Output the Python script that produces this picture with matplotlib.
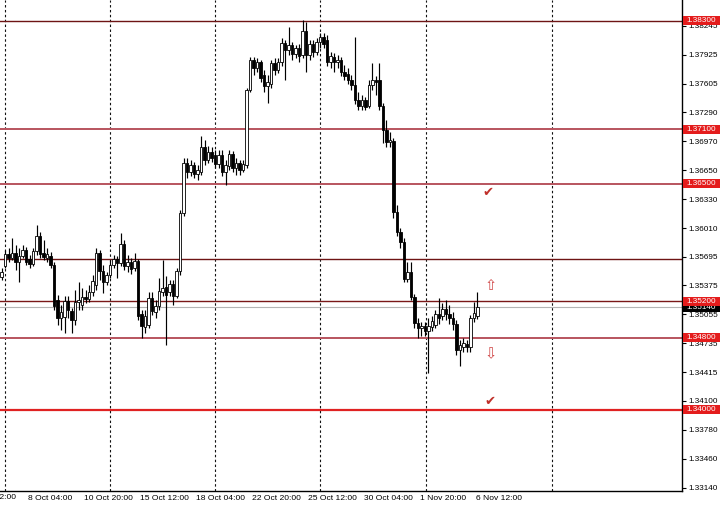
import matplotlib
matplotlib.use('Agg')
import matplotlib.pyplot as plt
import matplotlib.transforms as mtrans
from matplotlib.patches import Rectangle

# ---------------- data ----------------
opens = [1.3547, 1.3559, 1.3572, 1.3568, 1.3573, 1.3564, 1.3570, 1.3577, 1.3567, 1.3561,
         1.3576, 1.3592, 1.3573, 1.3568, 1.3570, 1.3560, 1.3521, 1.3502, 1.3503, 1.3520,
         1.3509, 1.3499, 1.3519, 1.3516, 1.3525, 1.3523, 1.3530, 1.3538, 1.3573, 1.3554,
         1.3541, 1.3549, 1.3560, 1.3567, 1.3562, 1.3583, 1.3559, 1.3564, 1.3557, 1.3565,
         1.3506, 1.3492, 1.3494, 1.3524, 1.3508, 1.3515, 1.3530, 1.3536, 1.3530, 1.3539,
         1.3526, 1.3554, 1.3618, 1.3673, 1.3663, 1.3671, 1.3661, 1.3663, 1.3691, 1.3676,
         1.3685, 1.3682, 1.3672, 1.3682, 1.3663, 1.3670, 1.3683, 1.3667, 1.3673, 1.3665,
         1.3671, 1.3754, 1.3787, 1.3778, 1.3785, 1.3770, 1.3758, 1.3760, 1.3783, 1.3776,
         1.3785, 1.3806, 1.3798, 1.3803, 1.3793, 1.3800, 1.3792, 1.3819, 1.3792, 1.3804,
         1.3796, 1.3807, 1.3812, 1.3809, 1.3785, 1.3790, 1.3785, 1.3787, 1.3773, 1.3771,
         1.3765, 1.3759, 1.3742, 1.3736, 1.3742, 1.3736, 1.3759, 1.3765, 1.3765, 1.3736,
         1.3709, 1.3696, 1.3697, 1.3619, 1.3597, 1.3586, 1.3545, 1.3552, 1.3525, 1.3496,
         1.3491, 1.3493, 1.3487, 1.3492, 1.3494, 1.3506, 1.3504, 1.3512, 1.3506, 1.3502,
         1.3495, 1.3466, 1.3469, 1.3473, 1.3469, 1.3502, 1.3504]
highs = [1.3557, 1.3577, 1.3579, 1.3590, 1.3582, 1.3579, 1.3582, 1.3580, 1.3571, 1.3579,
         1.3604, 1.3597, 1.3588, 1.3579, 1.3575, 1.3564, 1.3527, 1.3516, 1.3526, 1.3526,
         1.3513, 1.3533, 1.3541, 1.3535, 1.3533, 1.3538, 1.3549, 1.3579, 1.3577, 1.3560,
         1.3552, 1.3566, 1.3571, 1.3570, 1.3596, 1.3588, 1.3571, 1.3568, 1.3573, 1.3567,
         1.3510, 1.3510, 1.3530, 1.3530, 1.3521, 1.3546, 1.3566, 1.3548, 1.3544, 1.3544,
         1.3557, 1.3621, 1.3678, 1.3678, 1.3676, 1.3674, 1.3671, 1.3703, 1.3698, 1.3692,
         1.3690, 1.3687, 1.3687, 1.3687, 1.3676, 1.3687, 1.3686, 1.3678, 1.3676, 1.3676,
         1.3756, 1.3790, 1.3790, 1.3789, 1.3787, 1.3776, 1.3770, 1.3787, 1.3789, 1.3789,
         1.3811, 1.3809, 1.3823, 1.3807, 1.3803, 1.3804, 1.3831, 1.3829, 1.3809, 1.3809,
         1.3811, 1.3816, 1.3816, 1.3814, 1.3796, 1.3794, 1.3792, 1.3790, 1.3781, 1.3778,
         1.3770, 1.3812, 1.3751, 1.3748, 1.3746, 1.3765, 1.3783, 1.3769, 1.3783, 1.3739,
         1.3720, 1.3707, 1.3700, 1.3626, 1.3601, 1.3590, 1.3564, 1.3564, 1.3528, 1.3502,
         1.3497, 1.3497, 1.3502, 1.3504, 1.3510, 1.3524, 1.3518, 1.3521, 1.3516, 1.3508,
         1.3499, 1.3477, 1.3480, 1.3477, 1.3505, 1.3519, 1.3530]
lows = [1.3544, 1.3557, 1.3564, 1.3566, 1.3555, 1.3541, 1.3568, 1.3560, 1.3557, 1.3559,
        1.3571, 1.3568, 1.3566, 1.3564, 1.3557, 1.3510, 1.3494, 1.3488, 1.3485, 1.3502,
        1.3485, 1.3494, 1.3510, 1.3510, 1.3518, 1.3519, 1.3526, 1.3533, 1.3544, 1.3529,
        1.3538, 1.3546, 1.3557, 1.3546, 1.3559, 1.3555, 1.3552, 1.3550, 1.3554, 1.3499,
        1.3480, 1.3485, 1.3491, 1.3505, 1.3502, 1.3510, 1.3526, 1.3472, 1.3526, 1.3516,
        1.3524, 1.3549, 1.3614, 1.3656, 1.3658, 1.3656, 1.3654, 1.3660, 1.3671, 1.3673,
        1.3674, 1.3667, 1.3667, 1.3658, 1.3649, 1.3665, 1.3663, 1.3660, 1.3660, 1.3663,
        1.3667, 1.3751, 1.3770, 1.3773, 1.3762, 1.3751, 1.3739, 1.3756, 1.3770, 1.3772,
        1.3780, 1.3765, 1.3792, 1.3787, 1.3789, 1.3785, 1.3789, 1.3773, 1.3787, 1.3790,
        1.3792, 1.3800, 1.3800, 1.3780, 1.3778, 1.3773, 1.3778, 1.3769, 1.3765, 1.3760,
        1.3754, 1.3738, 1.3731, 1.3731, 1.3731, 1.3734, 1.3754, 1.3748, 1.3731, 1.3695,
        1.3690, 1.3690, 1.3612, 1.3592, 1.3579, 1.3541, 1.3541, 1.3521, 1.3491, 1.3480,
        1.3482, 1.3482, 1.3441, 1.3487, 1.3491, 1.3495, 1.3499, 1.3499, 1.3495, 1.3488,
        1.3461, 1.3448, 1.3464, 1.3464, 1.3464, 1.3497, 1.3500]
closes = [1.3552, 1.3572, 1.3568, 1.3573, 1.3564, 1.3570, 1.3577, 1.3564, 1.3561, 1.3576,
          1.3592, 1.3572, 1.3569, 1.3572, 1.3560, 1.3515, 1.3502, 1.3508, 1.3520, 1.3510,
          1.3499, 1.3519, 1.3521, 1.3525, 1.3523, 1.3530, 1.3542, 1.3573, 1.3554, 1.3541,
          1.3549, 1.3560, 1.3567, 1.3562, 1.3583, 1.3559, 1.3564, 1.3556, 1.3565, 1.3504,
          1.3493, 1.3504, 1.3524, 1.3509, 1.3515, 1.3531, 1.3535, 1.3527, 1.3539, 1.3526,
          1.3554, 1.3618, 1.3673, 1.3663, 1.3671, 1.3661, 1.3665, 1.3691, 1.3676, 1.3685,
          1.3678, 1.3672, 1.3682, 1.3663, 1.3671, 1.3683, 1.3667, 1.3673, 1.3665, 1.3672,
          1.3754, 1.3787, 1.3778, 1.3785, 1.3767, 1.3758, 1.3762, 1.3783, 1.3776, 1.3785,
          1.3806, 1.3798, 1.3803, 1.3793, 1.3800, 1.3791, 1.3819, 1.3792, 1.3804, 1.3796,
          1.3807, 1.3812, 1.3804, 1.3785, 1.3791, 1.3785, 1.3787, 1.3773, 1.3769, 1.3765,
          1.3759, 1.3742, 1.3736, 1.3742, 1.3735, 1.3759, 1.3765, 1.3762, 1.3736, 1.3709,
          1.3696, 1.3698, 1.3619, 1.3597, 1.3586, 1.3545, 1.3552, 1.3525, 1.3496, 1.3491,
          1.3493, 1.3487, 1.3493, 1.3498, 1.3506, 1.3502, 1.3512, 1.3506, 1.3502, 1.3495,
          1.3466, 1.3472, 1.3474, 1.3470, 1.3502, 1.3507, 1.3514]

level_prices = [1.3830, 1.3710, 1.3650, 1.3567, 1.3520, 1.3480, 1.3400]
level_colors = ['#6e1414', '#b8545e', '#b8545e', '#6e1414', '#7a1818', '#b8545e', '#e02222']
level_widths = [1.0, 1.4, 1.4, 1.0, 1.0, 1.4, 1.6]
labeled_levels = [1.3830, 1.3710, 1.3650, 1.3520, 1.3480, 1.3400]
current_price = 1.3514

ytick_values = [1.38245, 1.37925, 1.37605, 1.37290, 1.36970, 1.36650, 1.36330,
                1.36010, 1.35695, 1.35375, 1.35055, 1.34735, 1.34415, 1.34100,
                1.33780, 1.33460, 1.33140]
xtick_bars = [8, 24, 40, 56, 72, 88, 104, 120, 136]
xtick_labels = ['8 Oct 04:00', '10 Oct 20:00', '15 Oct 12:00', '18 Oct 04:00',
                '22 Oct 20:00', '25 Oct 12:00', '30 Oct 04:00', '1 Nov 20:00',
                '6 Nov 12:00']
first_label_bar = -8
first_label = '3 Oct 12:00'
grid_bars = [1, 31, 61, 91, 121.2, 157.2]

check_marks = [(139.0, 1.3640), (139.6, 1.3409)]
up_arrow = (139.9, 1.3537)
down_arrow = (139.9, 1.3462)

# ---------------- figure ----------------
FONT = 'Liberation Sans'
fig = plt.figure(figsize=(7.2, 5.05), dpi=100)
ax = fig.add_axes([0.0, 14 / 505, 682 / 720, 491 / 505])
ax.set_facecolor('white')
ax.set_xlim(-0.43, 194.43)
ax.set_ylim(1.33104, 1.3853)

for s in ['top', 'left']:
    ax.spines[s].set_visible(False)
for s in ['bottom', 'right']:
    ax.spines[s].set_color('black')
    ax.spines[s].set_linewidth(1.0)

# vertical dashed grid
for gx in grid_bars:
    ax.axvline(gx, color='#111111', lw=0.8, linestyle=(0, (2.2, 2.2)), zorder=1)

# horizontal levels
ax.axhline(current_price, color='#b4b4b4', lw=0.8, zorder=1.5)
for p, c, w in zip(level_prices, level_colors, level_widths):
    ax.axhline(p, color=c, lw=w, zorder=1.6)

# candles
xs = list(range(len(closes)))
for x, o, h, l, c in zip(xs, opens, highs, lows, closes):
    ax.vlines(x, l, h, color='black', lw=0.85, zorder=3)
    bottom = min(o, c)
    height = max(abs(c - o), 0.00008)
    face = 'white' if c >= o else 'black'
    ax.add_patch(Rectangle((x - 0.36, bottom), 0.72, height, facecolor=face,
                           edgecolor='black', lw=0.6, zorder=4))

# right price axis
ax.yaxis.tick_right()
ax.set_yticks(ytick_values)
ax.set_yticklabels(['%.5f' % v for v in ytick_values], fontsize=5.9, family=FONT)
ax.tick_params(axis='y', length=3, width=0.8, pad=1.5, colors='black')

# bottom time axis
ax.set_xticks(xtick_bars)
ax.set_xticklabels(xtick_labels, fontsize=6.1, family=FONT, ha='left')
ax.tick_params(axis='x', length=0, pad=3)
offset = mtrans.ScaledTranslation(-1.5 / 100, 0, fig.dpi_scale_trans)
for lab in ax.get_xticklabels():
    lab.set_transform(lab.get_transform() + offset)
tr_x = mtrans.blended_transform_factory(ax.transData, ax.transAxes)
ax.text(first_label_bar, 0, first_label, transform=tr_x + offset +
        mtrans.ScaledTranslation(0, -3 / 100, fig.dpi_scale_trans),
        fontsize=6.1, family=FONT, ha='left', va='top', clip_on=False)

# price label boxes
tr_y = mtrans.blended_transform_factory(ax.transAxes, ax.transData)
box_h = 0.00100
ax.add_patch(Rectangle((1.0015, current_price - box_h / 2 - 0.00003), 0.07, box_h,
                       transform=tr_y, facecolor='black', edgecolor='none',
                       clip_on=False, zorder=6))
ax.text(1.006, current_price - 0.00003, '%.5f' % current_price, transform=tr_y,
        color='white', fontsize=5.9, family=FONT, va='center', ha='left',
        clip_on=False, zorder=7)
for p in labeled_levels:
    ax.add_patch(Rectangle((1.0015, p - box_h / 2), 0.07, box_h, transform=tr_y,
                           facecolor='#e41c1c', edgecolor='none', clip_on=False,
                           zorder=8))
    ax.text(1.006, p, '%.5f' % p, transform=tr_y, color='white', fontsize=5.9,
            family=FONT, va='center', ha='left', clip_on=False, zorder=9)

# annotations
for cx, cy in check_marks:
    ax.text(cx, cy, '\u2714', color='#c0302a', fontsize=9.5, ha='center', va='center',
            family='DejaVu Sans', zorder=5)
ax.text(up_arrow[0], up_arrow[1], '\u21e7', color='#d04848', fontsize=10.5,
        ha='center', va='center', family='DejaVu Sans', zorder=5)
ax.text(down_arrow[0], down_arrow[1], '\u21e9', color='#d04848', fontsize=10.5,
        ha='center', va='center', family='DejaVu Sans', zorder=5)

fig.savefig('out.png', dpi=100, facecolor='white')
